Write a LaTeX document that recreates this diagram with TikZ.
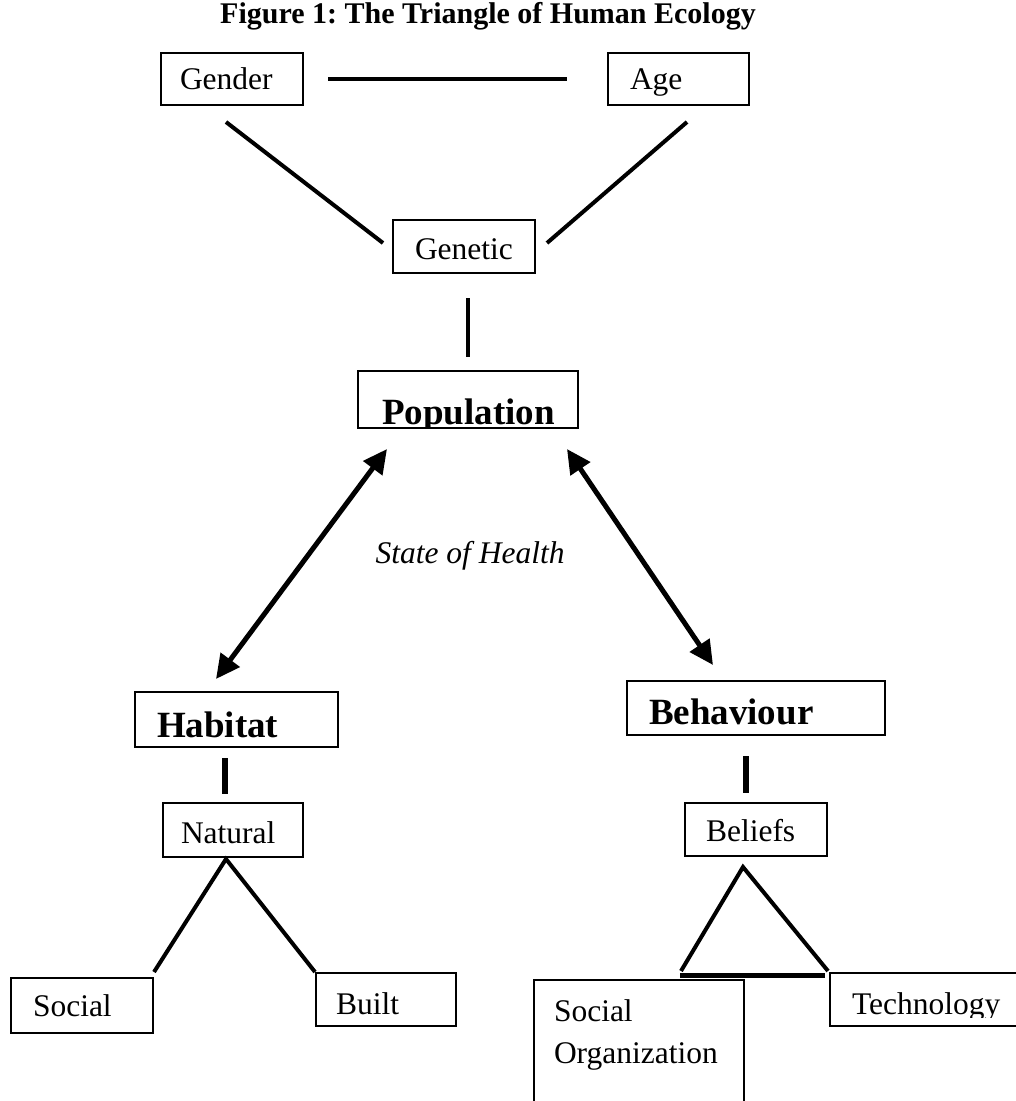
\documentclass[tikz,border=0pt]{standalone}
\usepackage{fontspec}
\setmainfont{Liberation Serif}
\usetikzlibrary{arrows.meta,calc}
\frenchspacing
\newcommand{\bodyfont}{\fontsize{31.5pt}{42pt}\selectfont}
\newcommand{\boldfont}{\fontsize{37pt}{42pt}\selectfont\bfseries}
\newcommand{\titlefont}{\fontsize{30pt}{36pt}\selectfont\bfseries}
\newcommand{\italfont}{\fontsize{31.5pt}{38pt}\selectfont\itshape}
\tikzset{
  frame/.style={draw, line width=2pt},
  tbox/.style n args={4}{frame, anchor=north west, inner ysep=0pt, align=left,
     font=\bodyfont, inner xsep=#1, text width=#2, text height=#3, text depth=#4},
  cbox/.style 2 args={frame, anchor=north west, inner sep=0pt,
     minimum width=#1, minimum height=#2},
  cliptext/.style={anchor=base west, inner sep=0pt, minimum width=0pt, minimum height=0pt, draw=none},
  link/.style={line width=4pt},
  bar/.style={line width=6pt},
  dbl/.style={line width=5pt, {Triangle[length=24pt,width=23pt]}-{Triangle[length=24pt,width=23pt]}},
}
\begin{document}
\begin{tikzpicture}[x=1pt, y=-1pt]
\useasboundingbox (0,0) rectangle (1016,1101);
\clip (0,0) rectangle (1016,1101);

\node[font=\titlefont, anchor=base, inner sep=0pt] (title) at (488,23) {Figure 1: The Triangle of Human Ecology};

\node[tbox={19pt}{104pt}{36.5pt}{15.5pt}] (gender) at (160,52) {Gender};
\node[cbox={141pt}{52pt}, path picture={
   \clip (path picture bounding box.north west) rectangle ([yshift=-42pt]path picture bounding box.north east);
   \node[cliptext, font=\bodyfont] at ([xshift=21pt,yshift=-36.5pt]path picture bounding box.north west) {Age};}] (age) at (607,52) {};
\node[tbox={22pt}{98pt}{39pt}{14pt}] (genetic) at (392,219) {Genetic};
\node[cbox={220pt}{57pt}, path picture={
   \node[cliptext, font=\boldfont] at ([xshift=23pt,yshift=-53pt]path picture bounding box.north west) {Population};}] (population) at (357,370) {};

\node[font=\italfont, anchor=base, inner sep=0pt] (health) at (470,563) {State of Health};

\node[tbox={22pt}{159pt}{45pt}{10pt}, font=\boldfont] (habitat) at (134,691) {Habitat};
\node[tbox={22pt}{214pt}{43pt}{11pt}, font=\boldfont] (behaviour) at (626,680) {Behaviour};
\node[tbox={18pt}{104pt}{40pt}{14pt}] (natural) at (162,802) {Natural};
\node[tbox={21pt}{100pt}{38pt}{15pt}] (beliefs) at (684,802) {Beliefs};
\node[tbox={22pt}{98pt}{38pt}{17pt}] (social) at (10,977) {Social};
\node[tbox={20pt}{100pt}{41pt}{12pt}] (built) at (315,972) {Built};
\node[tbox={20pt}{170pt}{41pt}{119pt}] (socorg) at (533,979) {Social\\Organization};
\node[cbox={200pt}{53pt}, path picture={
   \clip (path picture bounding box.north west) rectangle ([yshift=-44pt]path picture bounding box.north east);
   \node[cliptext, font=\bodyfont] at ([xshift=21pt,yshift=-41pt]path picture bounding box.north west) {Technology};}] (tech) at (829,972) {};

% connectors
\draw[link] ($(gender.east)+(24,0)$) -- ($(age.west)+(-40,0)$);
\draw[link] ($(gender.south)+(-6,16)$) -- ($(genetic.west)+(-9,-3.5)$);
\draw[link] ($(age.south)+(8.5,16)$) -- ($(genetic.east)+(11,-3.5)$);
\draw[link] ($(genetic.south)+(4,24)$) -- ($(population.north)+(0,-13)$);

\draw[dbl] ($(population.south west)+(30,20)$) -- ($(habitat.north west)+(82,-12)$);
\draw[dbl] ($(population.south east)+(-12,20)$) -- ($(behaviour.north west)+(87,-15)$);

\draw[bar] ($(habitat.south west)+(91,10)$) -- ($(natural.north west)+(63,-8)$);
\draw[bar] ($(behaviour.south west)+(120,20)$) -- ($(beliefs.north west)+(62,-9)$);

\draw[link] ($(social.north east)+(0,-5)$) -- ($(natural.south west)+(64,1)$) -- (built.north west);
\draw[link] ($(socorg.north west)+(148,-8)$) -- ($(beliefs.south west)+(59,10)$) -- ($(tech.north west)+(-1,-1)$);
\draw[line width=5pt] ($(socorg.north west)+(147,-4)$) -- ($(tech.north west)+(-4,3)$);
\end{tikzpicture}
\end{document}
